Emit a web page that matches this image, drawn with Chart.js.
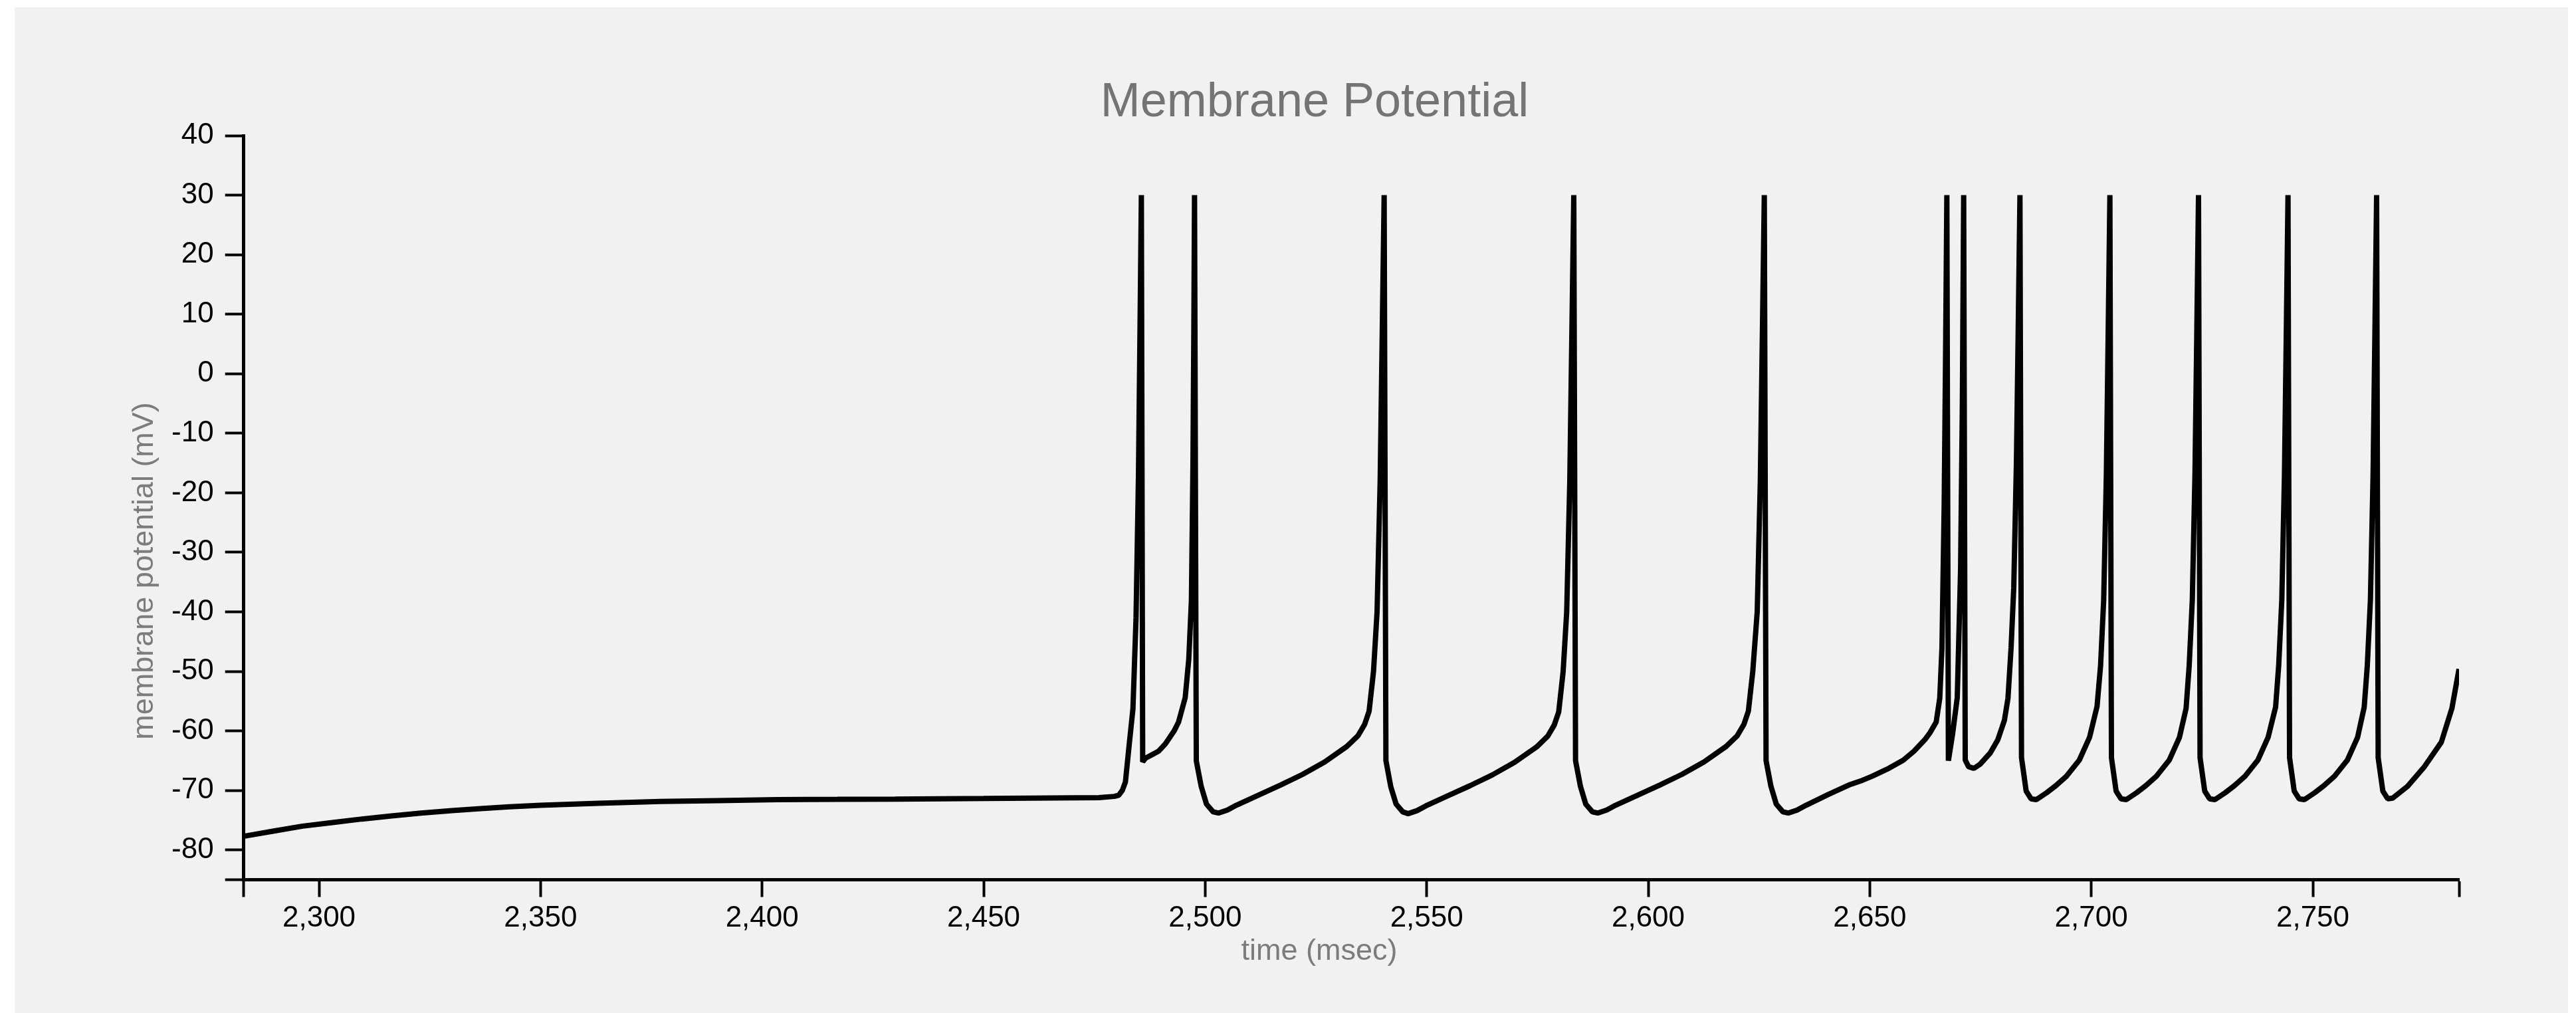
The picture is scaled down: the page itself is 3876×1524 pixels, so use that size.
<!DOCTYPE html>
<html>
<head>
<meta charset="utf-8">
<script src="https://cdn.jsdelivr.net/npm/chart.js@4.4.1/dist/chart.umd.min.js"></script>
<style>
  html, body { margin: 0; padding: 0; background: #ffffff; width: 3876px; height: 1524px; overflow: hidden; }
  #panel { position: absolute; left: 22px; top: 11px; width: 3842px; height: 1513px; background: #f1f1f1; }
  #chart { position: absolute; left: 0; top: 0; }
</style>
</head>
<body>
<div id="panel"></div>
<canvas id="chart" width="3876" height="1524"></canvas>
<script>
// ---- data ----
const chartTitle = 'Membrane Potential';
const xAxisTitle = 'time (msec)';
const yAxisTitle = 'membrane potential (mV)';

const timeMs = [
  2283, 2290, 2296.3, 2303, 2309.7, 2316, 2323, 2330, 2336.5, 2343, 2350, 2363, 2377, 2390, 2403.5, 2417, 2430, 2450, 2476, 2479.5, 2480.5,
  2481.3, 2482.0, 2482.9, 2483.7, 2484.4, 2484.95, 2485.3, 2485.6,
  2485.9, 2486.5, 2488.0, 2489.5, 2491.0, 2492.0, 2493.0, 2494.0, 2495.5, 2496.3, 2496.9, 2497.25, 2497.45, 2497.6,
  2498.0, 2499.1, 2500.3, 2501.8, 2503.0, 2505.0, 2507.0, 2512.0, 2517.0, 2522.0, 2527.0, 2532.0, 2534.5, 2536.0, 2537.0, 2538.0, 2538.8, 2539.5, 2539.95, 2540.4,
  2540.8, 2541.9, 2543.1, 2544.6, 2545.8, 2547.8, 2549.8, 2554.8, 2559.8, 2564.8, 2569.8, 2574.8, 2577.3, 2578.8, 2579.8, 2580.8, 2581.6, 2582.3, 2582.75, 2583.2,
  2583.6, 2584.7, 2585.9, 2587.4, 2588.6, 2590.6, 2592.6, 2597.6, 2602.6, 2607.6, 2612.6, 2617.6, 2620.1, 2621.6, 2622.6, 2623.6, 2624.6, 2625.3, 2625.75, 2626.2,
  2626.6, 2627.7, 2628.9, 2630.4, 2631.6, 2633.6, 2635.6, 2640.6, 2645.6, 2648.0, 2650.6, 2654.0, 2657.6, 2660.0, 2662.4, 2663.6, 2665.0, 2665.8, 2666.3, 2666.8, 2667.1, 2667.4,
  2667.75, 2668.7, 2669.75, 2670.5, 2670.9, 2671.2,
  2671.55, 2672.3, 2673.5, 2674.9, 2677.2, 2678.9, 2680.4, 2681.2, 2681.9, 2682.5, 2683.1, 2683.5, 2683.9,
  2684.25, 2685.3, 2686.4, 2687.6, 2689.9, 2692.0, 2694.4, 2697.3, 2699.6, 2701.3, 2702.1, 2702.8, 2703.4, 2703.8, 2704.2,
  2704.55, 2705.6, 2706.7, 2707.9, 2710.2, 2712.3, 2714.7, 2717.6, 2719.9, 2721.4, 2722.1, 2722.8, 2723.4, 2723.8, 2724.2,
  2724.55, 2725.6, 2726.7, 2727.9, 2730.2, 2732.3, 2734.7, 2737.6, 2739.9, 2741.6, 2742.3, 2743.0, 2743.6, 2744.0, 2744.4,
  2744.75, 2745.8, 2746.9, 2748.1, 2750.4, 2752.5, 2754.9, 2757.8, 2760.1, 2761.6, 2762.3, 2763.0, 2763.6, 2764.0, 2764.4,
  2764.75, 2765.8, 2766.9, 2768.0, 2771.4, 2775.2, 2779.0, 2781.4, 2783
];

const potentialMv = [
  -77.7, -76.8, -76.0, -75.4, -74.8, -74.3, -73.8, -73.4, -73.05, -72.75, -72.5, -72.15, -71.85, -71.7, -71.55, -71.5, -71.45, -71.35, -71.2, -71.0, -70.8,
  -70.0, -68.6, -62.0, -56.3, -41, -17, 7.7, 30,
  -65.2, -64.6, -64.0, -63.4, -62.2, -61.1, -60.0, -58.5, -54.4, -48, -38, -15, 8, 30,
  -65.0, -69.3, -72.3, -73.6, -73.8, -73.3, -72.5, -70.8, -69.1, -67.3, -65.2, -62.6, -60.8, -58.9, -56.7, -50, -40, -18, 6, 30,
  -65.0, -69.4, -72.3, -73.6, -73.9, -73.4, -72.6, -70.9, -69.2, -67.4, -65.3, -62.7, -60.9, -59.0, -56.8, -50, -40, -18, 6, 30,
  -65.0, -69.3, -72.3, -73.6, -73.8, -73.3, -72.5, -70.8, -69.1, -67.3, -65.2, -62.6, -60.8, -58.9, -56.7, -50, -40, -18, 6, 30,
  -65.0, -69.3, -72.3, -73.6, -73.8, -73.3, -72.5, -70.7, -69.0, -68.4, -67.6, -66.4, -64.9, -63.4, -61.5, -60.3, -58.5, -54.5, -46, -22, 2, 30,
  -65.0, -60.5, -54.4, -33, -5, 30,
  -64.9, -66.0, -66.3, -65.6, -63.7, -61.5, -58.2, -54.5, -46, -36, -15, 7, 30,
  -64.5, -70.1, -71.4, -71.55, -70.4, -69.2, -67.6, -64.9, -61.1, -55.9, -49, -38, -17, 6, 30,
  -64.5, -70.1, -71.4, -71.55, -70.4, -69.2, -67.6, -64.9, -61.1, -56.2, -49, -38, -17, 6, 30,
  -64.5, -70.1, -71.4, -71.55, -70.4, -69.2, -67.6, -64.9, -61.1, -56.0, -49, -38, -17, 6, 30,
  -64.5, -70.1, -71.4, -71.55, -70.4, -69.2, -67.6, -64.9, -61.1, -56.0, -49, -38, -17, 6, 30,
  -64.5, -70.1, -71.4, -71.3, -69.3, -66.0, -61.9, -56.2, -49.6
];

const xMin = 2283, xMax = 2783;
const yMin = -85, yMax = 40;
const xTickValues = [2283, 2300, 2350, 2400, 2450, 2500, 2550, 2600, 2650, 2700, 2750, 2783];
const xTickLabels = ['', '2,300', '2,350', '2,400', '2,450', '2,500', '2,550', '2,600', '2,650', '2,700', '2,750', ''];
const yTickValues = [-85, -80, -70, -60, -50, -40, -30, -20, -10, 0, 10, 20, 30, 40];
const yTickLabels = ['', '-80', '-70', '-60', '-50', '-40', '-30', '-20', '-10', '0', '10', '20', '30', '40'];

// ---- chart ----
const FONT = '"Liberation Sans", Arial, Helvetica, sans-serif';

const axisTitlePlugin = {
  id: 'axisTitles',
  afterDraw(chart) {
    const c = chart.ctx;
    c.save();
    c.fillStyle = '#7c7c7c';
    c.font = '45px ' + FONT;
    c.textAlign = 'center';
    c.textBaseline = 'alphabetic';
    c.fillText(xAxisTitle, 1985, 1444);
    c.translate(230, 859);
    c.rotate(-Math.PI / 2);
    c.fillText(yAxisTitle, 0, 0);
    c.restore();
  }
};

new Chart(document.getElementById('chart'), {
  type: 'line',
  data: {
    datasets: [{
      data: timeMs.map((t, i) => ({ x: t, y: potentialMv[i] })),
      borderColor: '#000000',
      borderWidth: 8,
      pointRadius: 0,
      tension: 0,
      fill: false,
      borderJoinStyle: 'bevel',
      borderCapStyle: 'butt'
    }]
  },
  options: {
    responsive: false,
    animation: false,
    devicePixelRatio: 1,
    layout: { padding: { left: 256, right: 176, top: 0, bottom: 0 } },
    plugins: {
      legend: { display: false },
      tooltip: { enabled: false },
      title: {
        display: true,
        text: chartTitle,
        color: '#747474',
        font: { family: FONT, size: 72, weight: 'normal' },
        padding: { top: 111.8, bottom: 5.8 }
      }
    },
    scales: {
      x: {
        type: 'linear',
        min: xMin,
        max: xMax,
        afterBuildTicks: (s) => { s.ticks = xTickValues.map(v => ({ value: v })); },
        afterFit: (s) => { s.height = 200.5; },
        ticks: {
          autoSkip: false, maxRotation: 0, minRotation: 0, padding: 6, color: '#000000',
          font: { family: FONT, size: 44 },
          callback: (v, i) => xTickLabels[i]
        },
        grid: { display: true, drawOnChartArea: false, drawTicks: true, tickLength: 26, tickWidth: 4, tickColor: '#000000' },
        border: { display: true, color: '#000000', width: 5 }
      },
      y: {
        type: 'linear',
        min: yMin,
        max: yMax,
        afterBuildTicks: (s) => { s.ticks = yTickValues.map(v => ({ value: v })); },
        afterFit: (s) => { s.width = 110.7; },
        ticks: {
          autoSkip: false, padding: 17, color: '#000000',
          font: { family: FONT, size: 44 },
          callback: (v, i) => yTickLabels[i]
        },
        grid: { display: true, drawOnChartArea: false, drawTicks: true, tickLength: 28, tickWidth: 4, tickColor: '#000000' },
        border: { display: true, color: '#000000', width: 5 }
      }
    }
  },
  plugins: [axisTitlePlugin]
});
</script>
</body>
</html>
